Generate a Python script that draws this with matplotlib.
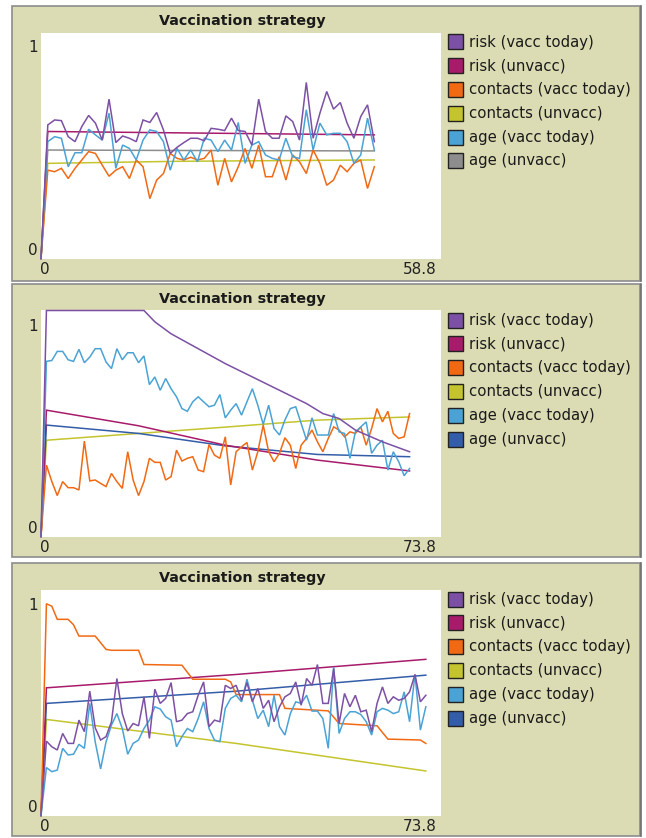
import matplotlib
matplotlib.use("Agg")
import matplotlib.pyplot as plt
from matplotlib.patches import Rectangle

# ---- data ----
labels = ["risk (vacc today)", "risk (unvacc)", "contacts (vacc today)",
          "contacts (unvacc)", "age (vacc today)", "age (unvacc)"]
x_max = [58.8, 73.8, 73.8]

# panel 1 (x = 0..49)
p1_risk_vacc = [0, 0.591, 0.613, 0.610, 0.539, 0.517, 0.584, 0.633, 0.599, 0.524, 0.705,
                0.513, 0.542, 0.532, 0.517, 0.613, 0.602, 0.646, 0.569, 0.465, 0.492,
                0.513, 0.532, 0.532, 0.521, 0.576, 0.572, 0.566, 0.621, 0.566, 0.562,
                0.502, 0.705, 0.562, 0.532, 0.532, 0.631, 0.606, 0.524, 0.779, 0.532,
                0.643, 0.739, 0.661, 0.690, 0.599, 0.532, 0.628, 0.680, 0.517]
p1_contacts_vacc = [0, 0.391, 0.384, 0.399, 0.354, 0.399, 0.436, 0.473, 0.465, 0.413, 0.364,
                    0.391, 0.406, 0.354, 0.436, 0.406, 0.265, 0.347, 0.376, 0.465, 0.443,
                    0.436, 0.448, 0.436, 0.443, 0.480, 0.324, 0.443, 0.339, 0.406, 0.487,
                    0.399, 0.502, 0.362, 0.362, 0.450, 0.347, 0.458, 0.428, 0.376, 0.480,
                    0.421, 0.324, 0.347, 0.413, 0.384, 0.421, 0.436, 0.310, 0.406]
p1_age_vacc = [0, 0.517, 0.539, 0.532, 0.406, 0.468, 0.468, 0.572, 0.547, 0.524, 0.643,
               0.399, 0.502, 0.487, 0.436, 0.524, 0.569, 0.562, 0.517, 0.391, 0.487,
               0.436, 0.480, 0.428, 0.532, 0.524, 0.473, 0.524, 0.480, 0.602, 0.421,
               0.502, 0.517, 0.458, 0.443, 0.436, 0.532, 0.450, 0.443, 0.658, 0.480,
               0.599, 0.547, 0.554, 0.554, 0.517, 0.421, 0.458, 0.621, 0.480]
p1_x_smooth = [0, 1, 20, 49]
p1_risk_unvacc = [0, 0.562, 0.556, 0.547]
p1_contacts_unvacc = [0, 0.421, 0.430, 0.436]
p1_age_unvacc = [0, 0.480, 0.478, 0.476]

# panel 2 (x = 0..68)
p2_x_risk_vacc = [0, 1, 19, 21, 24, 29, 34, 39, 44, 49, 52, 55, 58, 63, 68]
p2_risk_vacc = [0, 1.0, 1.0, 0.95, 0.897, 0.831, 0.765, 0.706, 0.647, 0.588, 0.544,
                0.522, 0.471, 0.419, 0.375]
p2_contacts_vacc = [0, 0.316, 0.243, 0.181, 0.243, 0.216, 0.216, 0.206, 0.422, 0.246, 0.250,
                    0.235, 0.221, 0.279, 0.243, 0.213, 0.375, 0.250, 0.181, 0.243, 0.346,
                    0.328, 0.328, 0.250, 0.265, 0.382, 0.334, 0.346, 0.353, 0.294, 0.287,
                    0.407, 0.360, 0.346, 0.441, 0.228, 0.375, 0.397, 0.416, 0.294, 0.375,
                    0.493, 0.375, 0.331, 0.368, 0.437, 0.404, 0.301, 0.404, 0.434, 0.471,
                    0.419, 0.375, 0.434, 0.485, 0.471, 0.441, 0.463, 0.456, 0.485, 0.404,
                    0.478, 0.566, 0.507, 0.554, 0.456, 0.434, 0.441, 0.544]
p2_age_vacc = [0, 0.775, 0.779, 0.819, 0.819, 0.782, 0.775, 0.828, 0.769, 0.794, 0.831,
               0.831, 0.772, 0.743, 0.831, 0.782, 0.813, 0.813, 0.769, 0.799, 0.672,
               0.706, 0.647, 0.699, 0.654, 0.618, 0.566, 0.554, 0.596, 0.618, 0.596,
               0.574, 0.581, 0.628, 0.525, 0.559, 0.588, 0.537, 0.596, 0.654, 0.581,
               0.496, 0.581, 0.478, 0.449, 0.515, 0.566, 0.574, 0.500, 0.426, 0.525,
               0.449, 0.449, 0.449, 0.544, 0.463, 0.456, 0.346, 0.463, 0.485, 0.507,
               0.368, 0.404, 0.426, 0.294, 0.375, 0.331, 0.269, 0.301]
p2_x_smooth = [0, 1, 18, 34, 51, 68]
p2_risk_unvacc = [0, 0.559, 0.490, 0.404, 0.338, 0.290]
p2_contacts_unvacc = [0, 0.426, 0.456, 0.484, 0.515, 0.529]
p2_age_unvacc = [0, 0.493, 0.456, 0.401, 0.363, 0.353]

# panel 3 (x = 0..71)
p3_risk_vacc = [0, 0.329, 0.304, 0.290, 0.363, 0.319, 0.319, 0.422, 0.371, 0.550, 0.388,
                0.334, 0.349, 0.415, 0.606, 0.451, 0.374, 0.407, 0.397, 0.525, 0.341,
                0.559, 0.496, 0.518, 0.588, 0.415, 0.422, 0.451, 0.459, 0.532, 0.591,
                0.393, 0.422, 0.415, 0.576, 0.562, 0.576, 0.510, 0.588, 0.503, 0.562,
                0.474, 0.510, 0.415, 0.481, 0.525, 0.540, 0.591, 0.488, 0.606, 0.576,
                0.668, 0.496, 0.496, 0.650, 0.407, 0.540, 0.481, 0.532, 0.459, 0.466,
                0.371, 0.496, 0.569, 0.496, 0.525, 0.510, 0.518, 0.547, 0.624, 0.503,
                0.532]
p3_x_contacts_vacc = [0, 1, 2, 3, 5, 6, 7, 10, 12, 13, 18, 19, 26, 28, 34, 35, 36, 44,
                      45, 53, 55, 62, 64, 70, 71]
p3_contacts_vacc = [0, 0.937, 0.926, 0.868, 0.868, 0.844, 0.794, 0.794, 0.735, 0.731,
                    0.731, 0.668, 0.665, 0.603, 0.603, 0.591, 0.535, 0.535, 0.474, 0.463,
                    0.407, 0.397, 0.338, 0.334, 0.319]
p3_age_vacc = [0, 0.212, 0.194, 0.201, 0.297, 0.268, 0.271, 0.315, 0.297, 0.496, 0.326,
               0.206, 0.326, 0.400, 0.451, 0.385, 0.271, 0.319, 0.334, 0.385, 0.422,
               0.481, 0.471, 0.437, 0.422, 0.304, 0.349, 0.385, 0.371, 0.429, 0.503,
               0.385, 0.334, 0.326, 0.474, 0.518, 0.532, 0.503, 0.603, 0.510, 0.429,
               0.466, 0.393, 0.532, 0.393, 0.356, 0.451, 0.503, 0.496, 0.532, 0.462,
               0.462, 0.429, 0.297, 0.657, 0.363, 0.429, 0.459, 0.459, 0.447, 0.415,
               0.356, 0.459, 0.474, 0.466, 0.451, 0.459, 0.547, 0.415, 0.624, 0.378,
               0.481]
p3_x_smooth = [0, 1, 36, 71]
p3_risk_unvacc = [0, 0.565, 0.624, 0.691]
p3_contacts_unvacc = [0, 0.425, 0.319, 0.197]
p3_age_unvacc = [0, 0.496, 0.550, 0.621]

# netlogo colours
violet = "#7c50a4"
magenta = "#a71b6a"
orange = "#f16913"
yellow = "#c4c42e"
sky = "#4aa3d4"
blue = "#345da9"
gray = "#8d8d8d"
beige = "#dcdcb4"

panels = [
    [(None, p1_risk_vacc), (p1_x_smooth, p1_risk_unvacc), (None, p1_contacts_vacc),
     (p1_x_smooth, p1_contacts_unvacc), (None, p1_age_vacc), (p1_x_smooth, p1_age_unvacc)],
    [(p2_x_risk_vacc, p2_risk_vacc), (p2_x_smooth, p2_risk_unvacc), (None, p2_contacts_vacc),
     (p2_x_smooth, p2_contacts_unvacc), (None, p2_age_vacc), (p2_x_smooth, p2_age_unvacc)],
    [(None, p3_risk_vacc), (p3_x_smooth, p3_risk_unvacc), (p3_x_contacts_vacc, p3_contacts_vacc),
     (p3_x_smooth, p3_contacts_unvacc), (None, p3_age_vacc), (p3_x_smooth, p3_age_unvacc)],
]
panel_colors = [
    [violet, magenta, orange, yellow, sky, gray],
    [violet, magenta, orange, yellow, sky, blue],
    [violet, magenta, orange, yellow, sky, blue],
]
# draw order (back to front) roughly as in the picture
draw_order = [3, 5, 1, 2, 4, 0]

W, H = 646, 838
fig = plt.figure(figsize=(W / 100, H / 100), dpi=100)
fig.patch.set_facecolor("white")

bg = fig.add_axes([0, 0, 1, 1])
bg.set_xlim(0, W)
bg.set_ylim(H, 0)
bg.axis("off")

panel_top = [6, 284, 563]
panel_bottom = [281, 557, 836]
plot_left, plot_right = 41, 441

for i in range(3):
    top, bot = panel_top[i], panel_bottom[i]
    bg.add_patch(Rectangle((12, top), 628, bot - top, facecolor=beige,
                           edgecolor="#8c8c8c", lw=1.2))
    bg.plot([640.5, 640.5], [top, bot], color="#6e6e6e", lw=1.2)
    bg.text(242, top + 15, "Vaccination strategy", ha="center", va="center",
            fontsize=10.3, fontweight="bold", color="#1a1a1a")
    bg.text(37.5, top + 42, "1", ha="right", va="center", fontsize=11, color="#222222")
    bg.text(37.5, top + 244, "0", ha="right", va="center", fontsize=11, color="#222222")
    bg.text(45, top + 263, "0", ha="center", va="center", fontsize=11, color="#222222")
    bg.text(437, top + 263, "%g" % x_max[i], ha="right", va="center", fontsize=11,
            color="#222222")

    # legend
    for j, lab in enumerate(labels):
        yc = top + 36 + j * 23.8
        bg.add_patch(Rectangle((447.5, yc - 7.5), 15.5, 15, facecolor=panel_colors[i][j],
                               edgecolor="#222222", lw=1.0))
        bg.text(469, yc, lab, ha="left", va="center", fontsize=10.7, color="#1a1a1a")

    # plot area
    pt, pb = top + 26.5, top + 252.5
    ax = fig.add_axes([plot_left / W, 1 - pb / H, (plot_right - plot_left) / W, (pb - pt) / H])
    ax.set_facecolor("white")
    for s in ax.spines.values():
        s.set_visible(False)
    ax.set_xticks([])
    ax.set_yticks([])
    ax.set_xlim(0, x_max[i])
    ax.set_ylim(0, 1)
    for j in draw_order:
        xs, ys = panels[i][j]
        if xs is None:
            xs = list(range(len(ys)))
        ax.plot(xs, ys, color=panel_colors[i][j], lw=1.1, clip_on=False,
                solid_joinstyle="miter")

fig.savefig("out.png", dpi=100)
